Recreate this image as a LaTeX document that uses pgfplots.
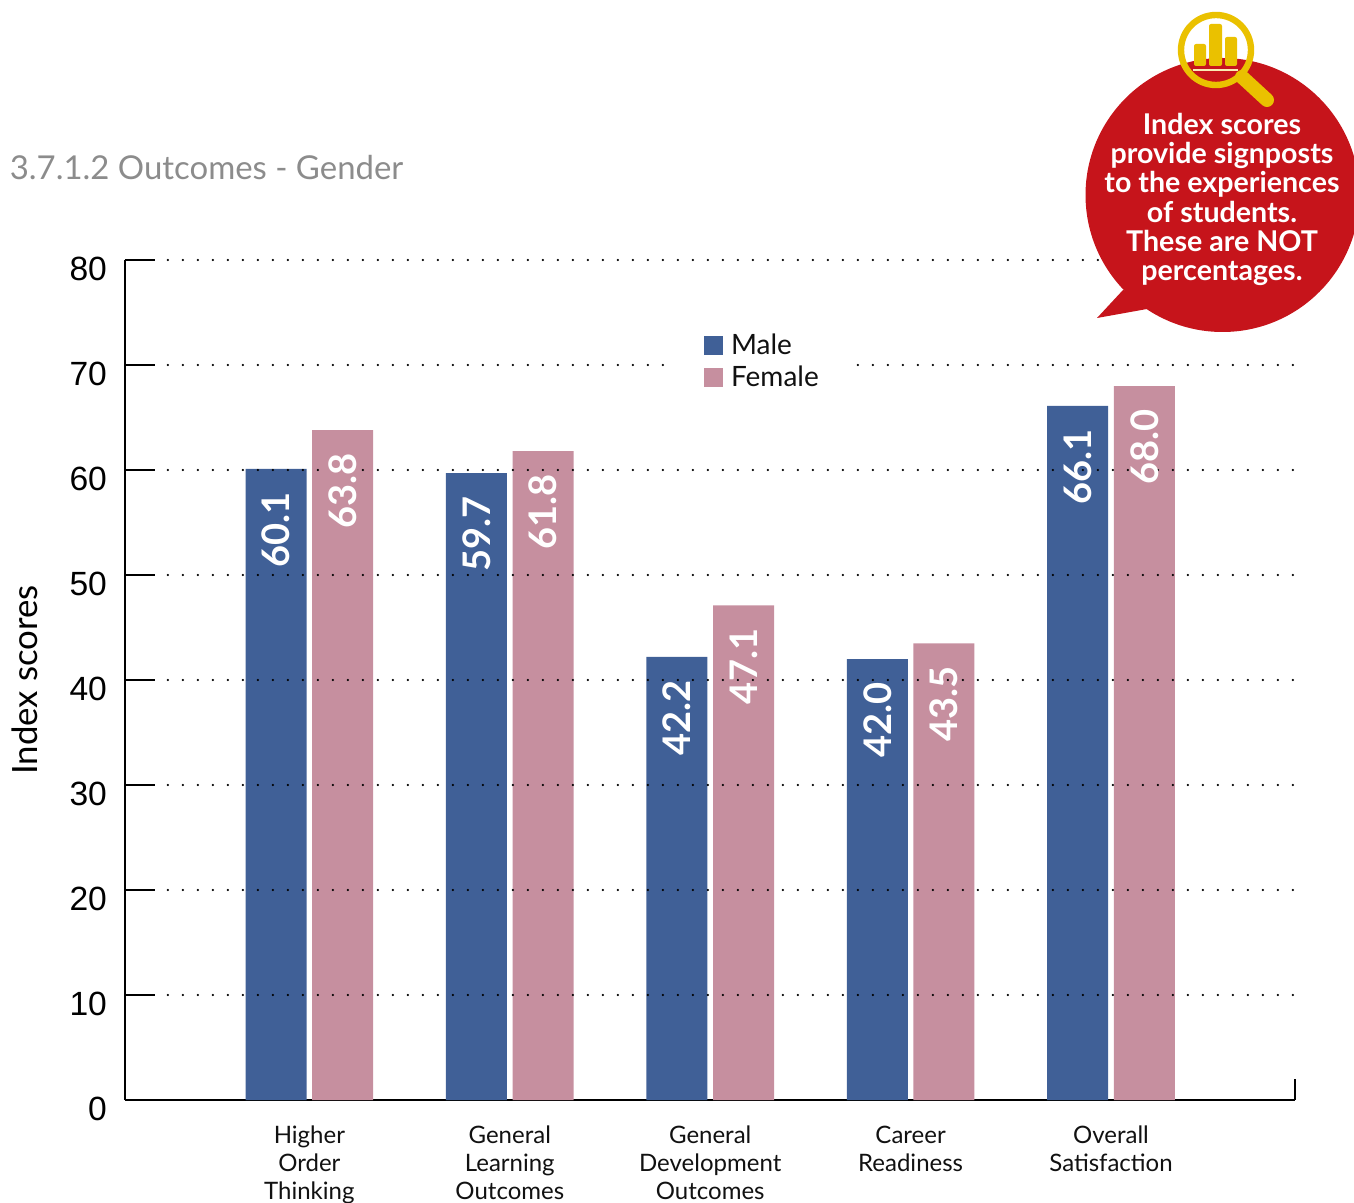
\documentclass[border=0pt]{standalone}
\usepackage{fontspec}
\setmainfont{Lato}
\newfontfamily\arial{Liberation Sans}
\usepackage{pgfplots}
\pgfplotsset{compat=1.18}
\definecolor{maleblue}{HTML}{406097}
\definecolor{femalepink}{HTML}{C68F9F}
\definecolor{bubblered}{HTML}{C6141B}
\definecolor{glassyellow}{HTML}{EAC100}
\definecolor{titlegray}{HTML}{8C8C8C}
\definecolor{ink}{HTML}{111111}
\begin{document}
\begin{tikzpicture}
\path[use as bounding box] (0pt,0pt) rectangle (677pt,-601.5pt);
\begin{scope}[x=0.5pt,y=-0.5pt]
\node[anchor=west,text=titlegray,font=\fontsize{16.45}{20}\selectfont,inner sep=0pt] at (9.5,167.5) {3.7.1.2 Outcomes - Gender};
\end{scope}
\begin{axis}[
  at={(62.5pt,-550pt)},anchor=south west,
  scale only axis,width=585pt,height=420pt,
  clip=false,
  xmin=-0.92,xmax=4.918,ymin=0,ymax=80,
  axis lines=left,
  axis line style={-,line width=1.4pt,black},
  xtick={0,...,4},
  xticklabels={{Higher\\Order\\Thinking},{General\\Learning\\Outcomes},{General\\Development\\Outcomes},{Career\\Readiness},{Overall\\Satisfaction}},
  x tick label style={align=center,font=\fontsize{12}{14}\selectfont,text=ink,yshift=5.5pt},
  x tick style={draw=none},
  ytick={0,10,...,80},
  y tick style={line width=1.2pt,black},
  tickwidth=15pt,
  ytick align=inside,
  /pgf/number format/assume math mode=true,
  y tick label style={font=\arial\fontsize{16.8}{20}\selectfont,text=black,yshift=-4.5pt,xshift=-5.5pt},
  ylabel={Index scores},
  y label style={at={(axis description cs:-0.0855,0.5)},anchor=center,font=\fontsize{17.4}{20}\selectfont,text=black},
  ybar,bar width=30.5pt,
  nodes near coords,
  nodes near coords style={
    /pgf/number format/fixed,/pgf/number format/fixed zerofill,/pgf/number format/precision=1,
    /pgf/number format/assume math mode=true,
    rotate=90,anchor=east,xshift=-11.5pt,inner sep=0pt,
    text=white,font=\bfseries\fontsize{19}{22}\selectfont},
  legend cell align=left,
  legend style={draw=none,fill=none,at={(0.4949,0.917)},anchor=north west,
    font=\fontsize{14}{16}\selectfont,text=ink,inner sep=0pt,outer sep=0pt,
    row sep=0.4pt},
  legend image code/.code={\fill[#1] (0pt,-4.75pt) rectangle (9.5pt,4.75pt);\path (11.5pt,0pt);},
]
\addplot[draw=none,fill=maleblue,bar shift=-16.65pt] coordinates {(0,60.1) (1,59.7) (2,42.2) (3,42.0) (4,66.1)};
\addplot[draw=none,fill=femalepink,bar shift=16.65pt] coordinates {(0,63.8) (1,61.8) (2,47.1) (3,43.5) (4,68.0)};
\legend{Male,Female}
\pgfplotsinvokeforeach{10,20,30,40,50,60,80}{
  \draw[line width=1.2pt,line cap=round,dash pattern=on 0pt off 7.5pt] (axis cs:-0.706,#1) -- (axis cs:4.928,#1);
}
\draw[line width=1.2pt,line cap=round,dash pattern=on 0pt off 7.5pt] (axis cs:-0.706,70) -- (axis cs:1.789,70);
\draw[line width=1.2pt,line cap=round,dash pattern=on 0pt off 7.5pt] (axis cs:2.737,70) -- (axis cs:4.928,70);
\draw[line width=1.25pt] (axis cs:4.918,0) -- (axis cs:4.918,2);
\end{axis}
\begin{scope}[x=0.5pt,y=-0.5pt]
% speech bubble
\fill[bubblered] (1222.5,195) circle[radius=137];
\fill[bubblered] (1123,290) -- (1097,318) -- (1147,309) -- (1180,300) -- cycle;
% magnifier
\draw[glassyellow,line width=7pt,line cap=round] (1242,77) -- (1267,100);
\draw[glassyellow,line width=3.2pt] (1216,50) circle[radius=35];
\fill[glassyellow,rounded corners=1pt] (1194,66) rectangle (1206,44);
\fill[glassyellow,rounded corners=1pt] (1209,66) rectangle (1222,24);
\fill[glassyellow,rounded corners=1pt] (1225,66) rectangle (1237,37);
\draw[white!70!glassyellow,line width=0.9pt] (1193,70) -- (1238,70);
\node[text=white,align=center,inner sep=0pt,font=\bfseries\fontsize{14.3}{14.62}\selectfont] at (1222,199.5)
  {Index scores\\provide signposts\\to the experiences\\of students.\\These are NOT\\percentages.};
\end{scope}
\end{tikzpicture}
\end{document}
